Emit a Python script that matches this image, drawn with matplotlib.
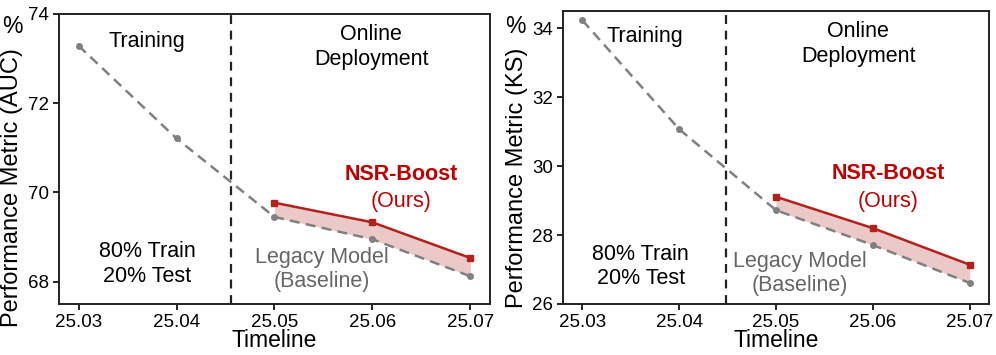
import matplotlib
matplotlib.use("Agg")
import matplotlib.pyplot as plt

plt.rcParams['font.family'] = ['Liberation Sans', 'DejaVu Sans']

months = ["25.03", "25.04", "25.05", "25.06", "25.07"]
auc_baseline = [73.29, 71.21, 69.45, 68.95, 68.12]
auc_nsr = [69.77, 69.33, 68.53]
ks_baseline = [34.23, 31.07, 28.72, 27.71, 26.61]
ks_nsr = [29.11, 28.20, 27.14]

fig = plt.figure(figsize=(9.96, 3.55), dpi=100)
ax1 = fig.add_axes([0.0592, 0.1437, 0.4328, 0.8169])
ax2 = fig.add_axes([0.5653, 0.1437, 0.4277, 0.8253])

GRAY = '#808080'
RED = '#B2221C'
TXT_RED = '#C00000'
FS = 15.5

def draw(ax, base, nsr, ylim, yticks, ylabel, vline, pos):
    x = list(range(len(months)))
    xn = x[2:]
    ax.plot(x, base, color=GRAY, ls=(0, (4, 2.5)), lw=1.8, marker='o', ms=4, zorder=3)
    ax.fill_between(xn, base[2:], nsr, color='#E8C4C2', alpha=0.9, lw=0, zorder=1)
    ax.plot(xn, nsr, color=RED, lw=1.8, marker='s', ms=4.5, zorder=4)
    ax.axvline(vline, color='#222222', ls=(0, (4, 3)), lw=1.6, zorder=2)
    ax.set_xlim(-0.2, 4.2)
    ax.set_ylim(*ylim)
    ax.set_yticks(yticks)
    ax.set_xticks(x)
    ax.set_xticklabels(months)
    ax.tick_params(labelsize=13.5, length=4, width=1.2, pad=3)
    ax.set_xlabel('Timeline', fontsize=16.5, labelpad=-1)
    ax.set_ylabel(ylabel, fontsize=17)
    ax.yaxis.set_label_coords(*pos['ylab'])
    for s in ax.spines.values():
        s.set_linewidth(1.4)
        s.set_color('#222222')
    t = ax.transAxes
    ax.text(pos['train'][0], pos['train'][1], 'Training', transform=t, ha='center', va='center', fontsize=FS)
    ax.text(pos['online'][0], pos['online'][1], 'Online\nDeployment', transform=t, ha='center', va='center', fontsize=FS, linespacing=1.25)
    ax.text(pos['split'][0], pos['split'][1], '80% Train\n20% Test', transform=t, ha='center', va='center', fontsize=FS, linespacing=1.2)
    ax.text(pos['nsr'][0], pos['nsr'][1], 'NSR-Boost', transform=t, ha='center', va='center', fontsize=FS, fontweight='bold', color=TXT_RED)
    ax.text(pos['ours'][0], pos['ours'][1], '(Ours)', transform=t, ha='center', va='center', fontsize=FS, color=TXT_RED)
    ax.text(pos['legacy'][0], pos['legacy'][1], 'Legacy Model\n(Baseline)', transform=t, ha='center', va='center', fontsize=FS, color='#666666', linespacing=1.2)
    ax.text(pos['pct'][0], pos['pct'][1], '%', transform=t, ha='center', va='center_baseline', fontsize=16.5)

draw(ax1, auc_baseline, auc_nsr, (67.5, 74), [68, 70, 72, 74], 'Performance Metric (AUC)', 1.56,
     dict(train=(0.204, 0.905), online=(0.724, 0.885), split=(0.204, 0.138), nsr=(0.793, 0.445),
          ours=(0.793, 0.353), legacy=(0.609, 0.118), pct=(-0.109, 0.965), ylab=(-0.084, 0.40)))
draw(ax2, ks_baseline, ks_nsr, (26, 34.5), [26, 28, 30, 32, 34], 'Performance Metric (KS)', 1.48,
     dict(train=(0.191, 0.912), online=(0.693, 0.888), split=(0.182, 0.127), nsr=(0.764, 0.446),
          ours=(0.764, 0.349), legacy=(0.555, 0.105), pct=(-0.113, 0.955), ylab=(-0.082, 0.43)))

fig.savefig('out.png', dpi=100)
